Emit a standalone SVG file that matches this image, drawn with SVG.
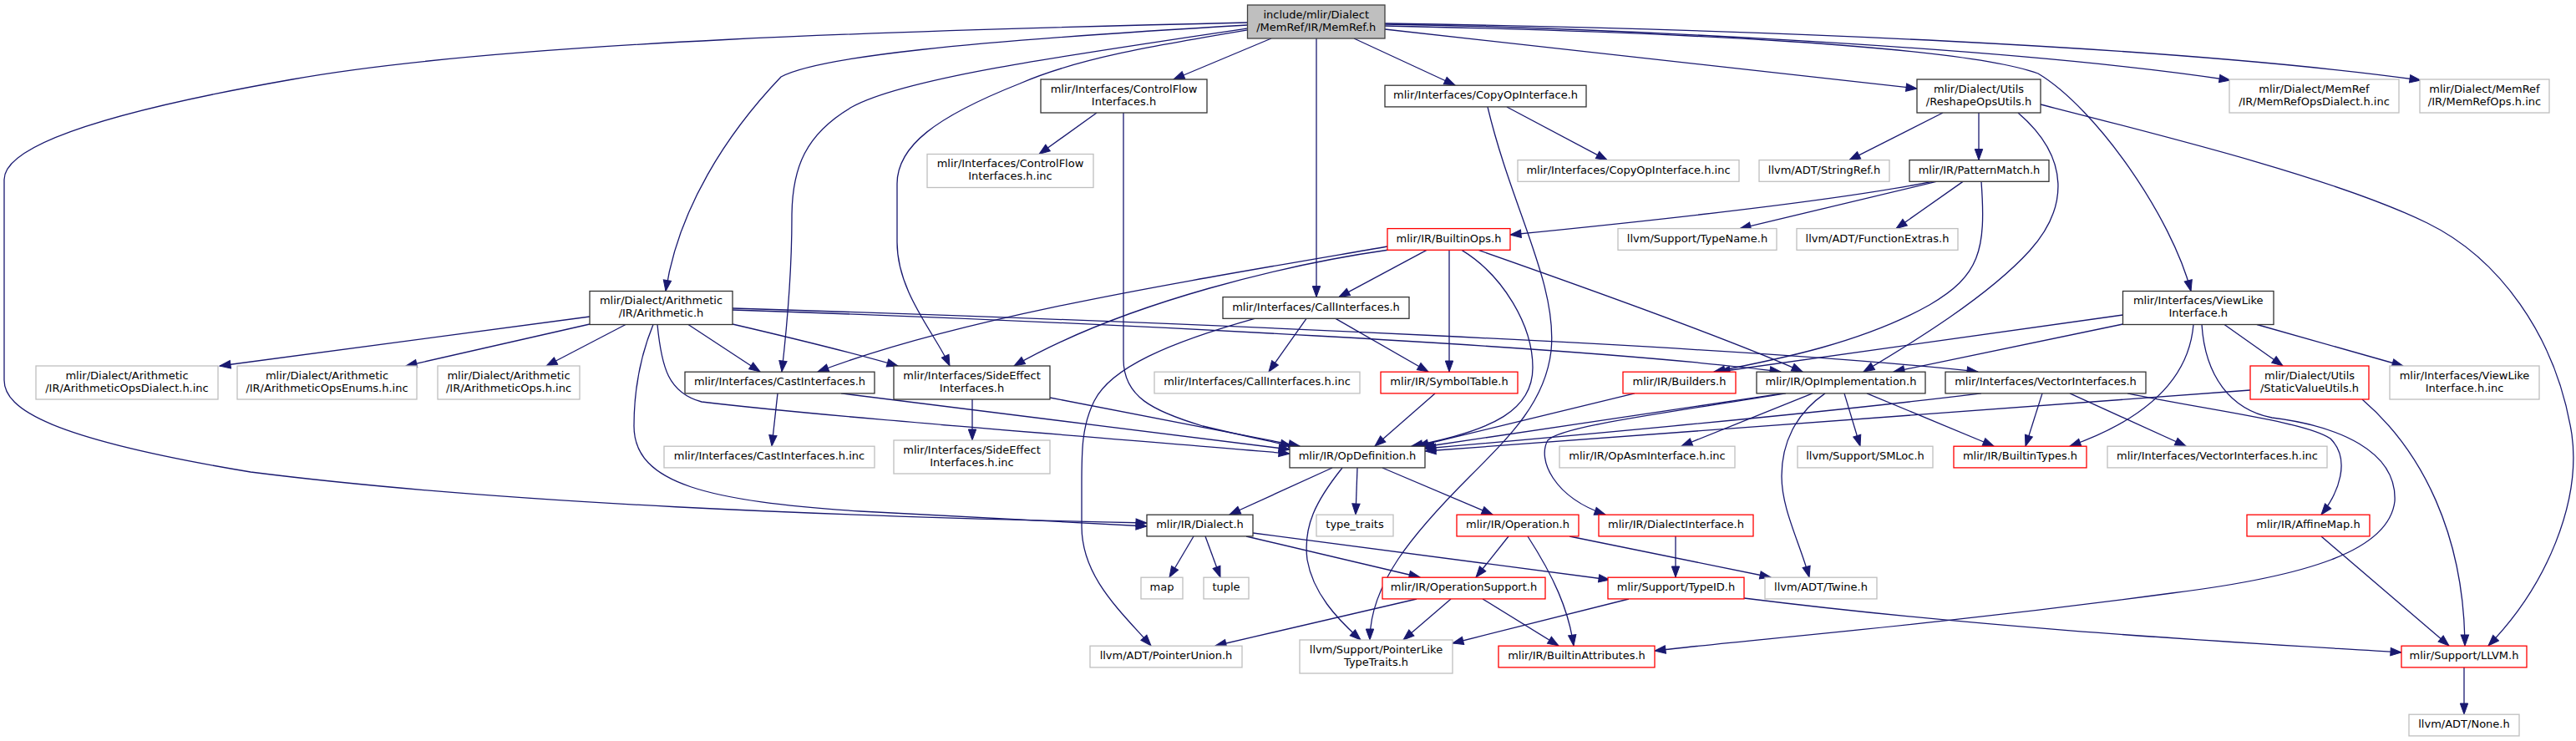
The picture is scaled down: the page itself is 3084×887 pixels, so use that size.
<svg xmlns="http://www.w3.org/2000/svg" width="3084" height="887" viewBox="0 0 3084 887">
<style>
rect{fill:#fff;stroke-width:1.3}
.k{stroke:#333}
.g{stroke:#bfbfbf}
.r{stroke:#ff0000}
.root{fill:#bfbfbf;stroke:#404040}
text{font-family:"DejaVu Sans","Liberation Sans",sans-serif;font-size:13px;text-anchor:middle;fill:#000}
#edges path{fill:none;stroke:#191970;stroke-width:1.3;marker-end:url(#ah)}
</style>
<defs>
<marker id="ah" markerWidth="14" markerHeight="10" refX="13" refY="5" orient="auto" markerUnits="userSpaceOnUse" overflow="visible"><path d="M0,0.3 L13,5 L0,9.7 Z" fill="#191970" stroke="#191970" stroke-width="1"/></marker>
</defs>
<rect x="0" y="0" width="3084" height="887" style="fill:#fff;stroke:none"/>
<g id="edges">
<path d="M1493.5,27 C1100,36 600,50 350,95 C150,130 5,170 5,215 L5,455 C5,490 60,525 300,565 C600,603 1000,618 1373,626"/>
<path d="M1493.5,30 C1150,50 980,68 935,92 C870,160 812,250 797,348.5"/>
<path d="M1493.5,34 C1250,70 1080,95 1020,128 C965,160 948,200 948,260 C948,340 940,410 936,445"/>
<path d="M1493.5,36 C1380,55 1290,70 1221,100 C1120,140 1074,175 1074,220 L1074,290 C1074,350 1120,400 1137,438"/>
<path d="M1522,46 L1405,95"/>
<path d="M1576,46 L1576,355.6"/>
<path d="M1621,46 L1742,102"/>
<path d="M1658,35 L2295,106"/>
<path d="M1658,29 C1900,33 2400,55 2670,96"/>
<path d="M1658,28 C2100,35 2600,55 2898,96"/>
<path d="M1658,31 C2000,38 2350,55 2440,88 C2510,130 2600,260 2623,348.5"/>
<path d="M1313,135 L1244,184.5"/>
<path d="M1345,135 L1345,430 C1345,475 1380,492 1440,510 C1490,522 1520,528 1546,534"/>
<path d="M1804,128 L1924,191.6"/>
<path d="M1781,128 C1810,250 1865,340 1857,420 C1850,480 1810,520 1760,570 C1690,640 1640,700 1640,766"/>
<path d="M2326,135 L2214,191.6"/>
<path d="M2369,135 L2369,191.6"/>
<path d="M2416,135 C2480,190 2475,250 2430,300 C2380,355 2290,410 2231,445"/>
<path d="M2443,125 C2600,165 2800,215 2906,267 C2990,308 3060,400 3079,520 C3090,600 3050,700 2979,773"/>
<path d="M2313,217.4 C2200,240 2000,262 1808,281"/>
<path d="M2318,217.4 L2083,273.6"/>
<path d="M2350,217.4 L2270,273.6"/>
<path d="M2372,217.4 C2378,300 2370,330 2310,365 C2230,410 2130,430 2052,445"/>
<path d="M1661,295 C1400,340 1150,380 979,445"/>
<path d="M1663,299 C1550,315 1350,360 1214,438"/>
<path d="M1708,299.4 L1603,355.6"/>
<path d="M1735,299.4 L1735,445"/>
<path d="M1750,299.4 C1800,330 1835,390 1835,440 C1835,490 1790,515 1690,534"/>
<path d="M1770,299.4 C1900,345 2080,410 2158,445"/>
<path d="M2541.5,377 L2058,445"/>
<path d="M2541.5,388 L2267,445"/>
<path d="M2626,388.5 C2620,460 2560,505 2478,534"/>
<path d="M2636,388.5 C2640,450 2670,490 2720,500 C2800,510 2870,540 2867,600 C2860,660 2760,690 2600,710 C2300,750 2100,765 1981,779"/>
<path d="M2663,388.5 L2733,438"/>
<path d="M2702,388.5 L2877,438"/>
<path d="M2694,467 L1706,540"/>
<path d="M2828,478 C2900,540 2950,640 2951,773"/>
<path d="M2372,470.9 C2200,492 1900,520 1706,537"/>
<path d="M2445,470.9 L2425,534"/>
<path d="M2478,470.9 L2617,534"/>
<path d="M2547,470.9 C2650,492 2760,505 2790,525 C2815,550 2800,590 2779,616"/>
<path d="M2135,470.9 L1704,535"/>
<path d="M2138,470.9 C1990,495 1870,510 1853,527 C1840,550 1860,595 1922,616"/>
<path d="M2170,470.9 L2013,534"/>
<path d="M2208,470.9 L2227,534"/>
<path d="M2235,470.9 L2387,534"/>
<path d="M2185,470.9 C2150,495 2133,530 2133,570 C2133,610 2155,650 2166,691"/>
<path d="M1957,470.9 L1697,534"/>
<path d="M1718,470.9 L1646,534"/>
<path d="M1564,381.4 L1519,445"/>
<path d="M1599,381.4 L1710,445"/>
<path d="M1502,381.4 C1400,410 1330,440 1310,480 C1295,510 1295,540 1295,580 L1295,630 C1295,690 1340,730 1378,773"/>
<path d="M1164,478 L1164,527"/>
<path d="M1257,476 L1556,534"/>
<path d="M931,470.9 L924,534"/>
<path d="M1007,470.9 L1544,538"/>
<path d="M706,379 L263,438"/>
<path d="M706,388 L486,438"/>
<path d="M749,388.5 L654,438"/>
<path d="M782,388.5 C765,430 759,470 759,510 C759,580 850,600 1030,612 C1200,622 1300,627 1373,630"/>
<path d="M824,388.5 L910,445"/>
<path d="M877,388 C950,405 1030,425 1075,438"/>
<path d="M877,371 C1300,385 1900,415 2132,445"/>
<path d="M877,369 C1400,385 2100,415 2368,445"/>
<path d="M787,388.5 C792,440 800,470 840,481 C1000,500 1300,522 1544,543"/>
<path d="M1595,560 L1472,616"/>
<path d="M1607,560 C1575,600 1560,630 1565,670 C1572,710 1600,740 1629,766"/>
<path d="M1625,560 L1623,616"/>
<path d="M1655,560 L1787,616"/>
<path d="M1429,642 L1400,691"/>
<path d="M1443,642 L1461,691"/>
<path d="M1492,642 L1700,691"/>
<path d="M1500,638 L1927,694"/>
<path d="M1806,642 L1767,691"/>
<path d="M1829,642 C1860,690 1878,730 1884,773"/>
<path d="M1879,642 L2120,691"/>
<path d="M2006,642 L2006,691"/>
<path d="M1696,717 L1455,773"/>
<path d="M1737,717 L1680,766"/>
<path d="M1775,717 L1866,773"/>
<path d="M1950,717 L1739,770"/>
<path d="M2088,716 C2400,755 2700,770 2875,781"/>
<path d="M2779,642 L2932,773"/>
<path d="M2950,799 L2950,855"/>
</g>
<g id="n_root"><rect class="root" x="1493.5" y="6" width="164.5" height="40"/><text x="1575.75" y="21.5">include/mlir/Dialect</text><text x="1575.75" y="36.5">/MemRef/IR/MemRef.h</text></g>
<g id="n_cfIf"><rect class="k" x="1246" y="95" width="199" height="40"/><text x="1345.5" y="110.5">mlir/Interfaces/ControlFlow</text><text x="1345.5" y="125.5">Interfaces.h</text></g>
<g id="n_copyOp"><rect class="k" x="1658" y="102.2" width="241" height="25.7"/><text x="1778.5" y="118">mlir/Interfaces/CopyOpInterface.h</text></g>
<g id="n_reshape"><rect class="k" x="2295" y="95" width="148" height="40"/><text x="2369" y="110.5">mlir/Dialect/Utils</text><text x="2369" y="125.5">/ReshapeOpsUtils.h</text></g>
<g id="n_memrefDialectInc"><rect class="g" x="2669" y="95" width="203" height="40"/><text x="2770.5" y="110.5">mlir/Dialect/MemRef</text><text x="2770.5" y="125.5">/IR/MemRefOpsDialect.h.inc</text></g>
<g id="n_memrefOpsInc"><rect class="g" x="2897" y="95" width="155" height="40"/><text x="2974.5" y="110.5">mlir/Dialect/MemRef</text><text x="2974.5" y="125.5">/IR/MemRefOps.h.inc</text></g>
<g id="n_cfIfInc"><rect class="g" x="1110" y="184.5" width="199" height="40"/><text x="1209.5" y="200">mlir/Interfaces/ControlFlow</text><text x="1209.5" y="215">Interfaces.h.inc</text></g>
<g id="n_copyOpInc"><rect class="g" x="1817" y="191.6" width="265" height="25.7"/><text x="1949.5" y="207.5">mlir/Interfaces/CopyOpInterface.h.inc</text></g>
<g id="n_stringRef"><rect class="g" x="2106" y="191.6" width="156" height="25.7"/><text x="2184" y="207.5">llvm/ADT/StringRef.h</text></g>
<g id="n_patternMatch"><rect class="k" x="2286" y="191.6" width="167" height="25.7"/><text x="2369.5" y="207.5">mlir/IR/PatternMatch.h</text></g>
<g id="n_builtinOps"><rect class="r" x="1661" y="273.6" width="147" height="25.7"/><text x="1734.5" y="289.5">mlir/IR/BuiltinOps.h</text></g>
<g id="n_typeName"><rect class="g" x="1937" y="273.6" width="190" height="25.7"/><text x="2032" y="289.5">llvm/Support/TypeName.h</text></g>
<g id="n_funcExtras"><rect class="g" x="2151" y="273.6" width="193" height="25.7"/><text x="2247.5" y="289.5">llvm/ADT/FunctionExtras.h</text></g>
<g id="n_arith"><rect class="k" x="706" y="348.5" width="171" height="40"/><text x="791.5" y="364">mlir/Dialect/Arithmetic</text><text x="791.5" y="379">/IR/Arithmetic.h</text></g>
<g id="n_callIf"><rect class="k" x="1464" y="355.6" width="223" height="25.7"/><text x="1575.5" y="371.5">mlir/Interfaces/CallInterfaces.h</text></g>
<g id="n_viewLike"><rect class="k" x="2541.5" y="348.5" width="180.5" height="40"/><text x="2631.75" y="364">mlir/Interfaces/ViewLike</text><text x="2631.75" y="379">Interface.h</text></g>
<g id="n_arithDialectInc"><rect class="g" x="43" y="438" width="218" height="40"/><text x="152" y="453.5">mlir/Dialect/Arithmetic</text><text x="152" y="468.5">/IR/ArithmeticOpsDialect.h.inc</text></g>
<g id="n_arithEnumsInc"><rect class="g" x="284" y="438" width="215" height="40"/><text x="391.5" y="453.5">mlir/Dialect/Arithmetic</text><text x="391.5" y="468.5">/IR/ArithmeticOpsEnums.h.inc</text></g>
<g id="n_arithOpsInc"><rect class="g" x="524" y="438" width="170" height="40"/><text x="609" y="453.5">mlir/Dialect/Arithmetic</text><text x="609" y="468.5">/IR/ArithmeticOps.h.inc</text></g>
<g id="n_castIf"><rect class="k" x="820" y="445.2" width="227" height="25.7"/><text x="933.5" y="461">mlir/Interfaces/CastInterfaces.h</text></g>
<g id="n_sideEffect"><rect class="k" x="1070" y="438" width="187" height="40"/><text x="1163.5" y="453.5">mlir/Interfaces/SideEffect</text><text x="1163.5" y="468.5">Interfaces.h</text></g>
<g id="n_callIfInc"><rect class="g" x="1382" y="445.2" width="246" height="25.7"/><text x="1505" y="461">mlir/Interfaces/CallInterfaces.h.inc</text></g>
<g id="n_symbolTable"><rect class="r" x="1653" y="445.2" width="164" height="25.7"/><text x="1735" y="461">mlir/IR/SymbolTable.h</text></g>
<g id="n_builders"><rect class="r" x="1943" y="445.2" width="135" height="25.7"/><text x="2010.5" y="461">mlir/IR/Builders.h</text></g>
<g id="n_opImpl"><rect class="k" x="2103" y="445.2" width="202" height="25.7"/><text x="2204" y="461">mlir/IR/OpImplementation.h</text></g>
<g id="n_vectorIf"><rect class="k" x="2329" y="445.2" width="240" height="25.7"/><text x="2449" y="461">mlir/Interfaces/VectorInterfaces.h</text></g>
<g id="n_staticValue"><rect class="r" x="2694" y="438" width="142" height="40"/><text x="2765" y="453.5">mlir/Dialect/Utils</text><text x="2765" y="468.5">/StaticValueUtils.h</text></g>
<g id="n_viewLikeInc"><rect class="g" x="2861" y="438" width="179" height="40"/><text x="2950.5" y="453.5">mlir/Interfaces/ViewLike</text><text x="2950.5" y="468.5">Interface.h.inc</text></g>
<g id="n_castIfInc"><rect class="g" x="795" y="534.2" width="252" height="25.7"/><text x="921" y="550">mlir/Interfaces/CastInterfaces.h.inc</text></g>
<g id="n_sideEffectInc"><rect class="g" x="1070" y="527" width="187" height="40"/><text x="1163.5" y="542.5">mlir/Interfaces/SideEffect</text><text x="1163.5" y="557.5">Interfaces.h.inc</text></g>
<g id="n_opDef"><rect class="k" x="1544" y="534.2" width="162" height="25.7"/><text x="1625" y="550">mlir/IR/OpDefinition.h</text></g>
<g id="n_opAsmInc"><rect class="g" x="1867" y="534.2" width="210" height="25.7"/><text x="1972" y="550">mlir/IR/OpAsmInterface.h.inc</text></g>
<g id="n_smloc"><rect class="g" x="2152" y="534.2" width="162" height="25.7"/><text x="2233" y="550">llvm/Support/SMLoc.h</text></g>
<g id="n_builtinTypes"><rect class="r" x="2339" y="534.2" width="159" height="25.7"/><text x="2418.5" y="550">mlir/IR/BuiltinTypes.h</text></g>
<g id="n_vectorIfInc"><rect class="g" x="2523" y="534.2" width="263" height="25.7"/><text x="2654.5" y="550">mlir/Interfaces/VectorInterfaces.h.inc</text></g>
<g id="n_dialect"><rect class="k" x="1373" y="616.2" width="127" height="25.7"/><text x="1436.5" y="632">mlir/IR/Dialect.h</text></g>
<g id="n_typeTraits"><rect class="g" x="1576" y="616.2" width="92" height="25.7"/><text x="1622" y="632">type_traits</text></g>
<g id="n_operation"><rect class="r" x="1744" y="616.2" width="146" height="25.7"/><text x="1817" y="632">mlir/IR/Operation.h</text></g>
<g id="n_dialectIf"><rect class="r" x="1914" y="616.2" width="185" height="25.7"/><text x="2006.5" y="632">mlir/IR/DialectInterface.h</text></g>
<g id="n_affineMap"><rect class="r" x="2690" y="616.2" width="147" height="25.7"/><text x="2763.5" y="632">mlir/IR/AffineMap.h</text></g>
<g id="n_map"><rect class="g" x="1366" y="691.2" width="50" height="25.7"/><text x="1391" y="707">map</text></g>
<g id="n_tuple"><rect class="g" x="1441" y="691.2" width="54" height="25.7"/><text x="1468" y="707">tuple</text></g>
<g id="n_opSupport"><rect class="r" x="1655" y="691.2" width="195" height="25.7"/><text x="1752.5" y="707">mlir/IR/OperationSupport.h</text></g>
<g id="n_typeId"><rect class="r" x="1925" y="691.2" width="163" height="25.7"/><text x="2006.5" y="707">mlir/Support/TypeID.h</text></g>
<g id="n_twine"><rect class="g" x="2113" y="691.2" width="134" height="25.7"/><text x="2180" y="707">llvm/ADT/Twine.h</text></g>
<g id="n_ptrUnion"><rect class="g" x="1305" y="773.2" width="182" height="25.7"/><text x="1396" y="789">llvm/ADT/PointerUnion.h</text></g>
<g id="n_ptrLike"><rect class="g" x="1556" y="766" width="183" height="40"/><text x="1647.5" y="781.5">llvm/Support/PointerLike</text><text x="1647.5" y="796.5">TypeTraits.h</text></g>
<g id="n_builtinAttrs"><rect class="r" x="1794" y="773.2" width="187" height="25.7"/><text x="1887.5" y="789">mlir/IR/BuiltinAttributes.h</text></g>
<g id="n_llvm"><rect class="r" x="2875" y="773.2" width="150" height="25.7"/><text x="2950" y="789">mlir/Support/LLVM.h</text></g>
<g id="n_none"><rect class="g" x="2884" y="855.2" width="132" height="25.7"/><text x="2950" y="871">llvm/ADT/None.h</text></g>
</svg>
